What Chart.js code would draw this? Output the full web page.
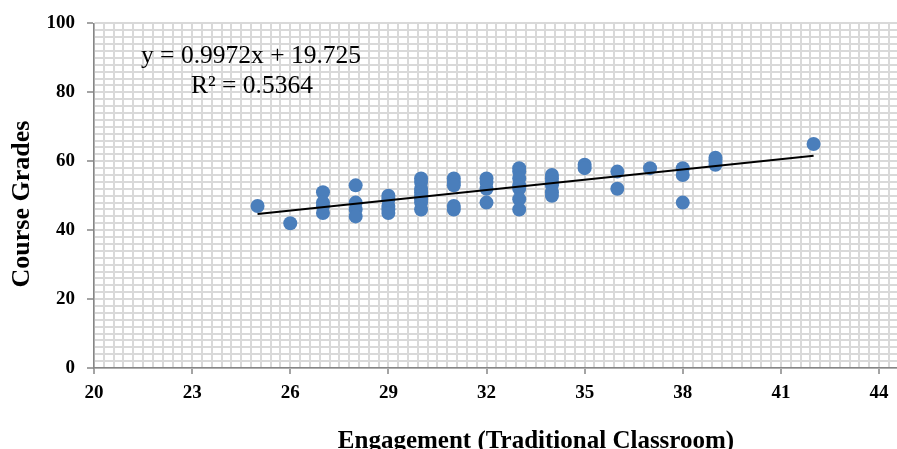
<!DOCTYPE html>
<html>
<head>
<meta charset="utf-8">
<script src="https://cdn.jsdelivr.net/npm/chart.js@4/dist/chart.umd.min.js"></script>
<style>
    html, body { margin: 0; padding: 0; background: #fff; }
    #wrap { width: 897px; height: 449px; position: relative; }
</style>
</head>
<body>
<div id="wrap"><canvas id="scatterChart"></canvas></div>
<script>
// values
const engagement = [
    25, 26,
    27, 27, 27, 27,
    28, 28, 28, 28,
    29, 29, 29, 29, 29,
    30, 30, 30, 30, 30, 30, 30, 30,
    31, 31, 31, 31, 31,
    32, 32, 32, 32,
    33, 33, 33, 33, 33, 33, 33,
    34, 34, 34, 34, 34, 34,
    35, 35,
    36, 36,
    37,
    38, 38, 38,
    39, 39, 39,
    42,
];
const grades = [
    47, 42,
    51, 48, 47, 45,
    53, 48, 46, 44,
    50, 49, 47, 46, 45,
    55, 54, 52, 51, 50, 49, 48, 46,
    55, 54, 53, 47, 46,
    55, 54, 52, 48,
    58, 57, 55, 53, 52, 49, 46,
    56, 55, 54, 53, 51, 50,
    59, 58,
    57, 52,
    58,
    58, 56, 48,
    61, 60, 59,
    65,
];
const trendX = [25, 42];
const trendY = [44.7, 61.6];

const xTicks = [20, 23, 26, 29, 32, 35, 38, 41, 44];
const yTicks = [0, 20, 40, 60, 80, 100];
const xMax = 44.55;
const xTitle = 'Engagement (Traditional Classroom)';
const yTitle = 'Course Grades';
const equationLines = ['y = 0.9972x + 19.725', 'R² = 0.5364'];

const serif = '"Liberation Serif", "Times New Roman", serif';
const gridColor = '#d9d9d9';
const axisColor = '#868686';

// minor grid lines: ten per major step, tick marks only on the major ones
const withMinor = (major, last) => {
    const step = (major[1] - major[0]) / 10;
    const out = [];
    for (let i = 0; major[0] + i * step <= last + 1e-9; i++) {
        out.push({ value: Math.round((major[0] + i * step) * 1000) / 1000 });
    }
    return out;
};
const isMajor = (list, v) => list.some((m) => Math.abs(m - v) < 1e-6);

const textPlugin = {
    id: 'textPlugin',
    afterDraw(chart) {
        const ctx = chart.ctx;
        ctx.save();
        ctx.fillStyle = '#000';
        ctx.textAlign = 'center';
        ctx.textBaseline = 'alphabetic';
        ctx.font = 'bold 25px ' + serif;
        ctx.fillText(xTitle, 536, 448);
        ctx.save();
        ctx.font = 'bold 26px ' + serif;
        ctx.translate(29, 204);
        ctx.rotate(-Math.PI / 2);
        ctx.fillText(yTitle, 0, 0);
        ctx.restore();
        ctx.font = '25.5px ' + serif;
        ctx.fillText(equationLines[0], 251, 63);
        ctx.fillText(equationLines[1], 252, 93);
        ctx.restore();
    },
};

const scatterPoints = engagement.map((x, i) => ({ x, y: grades[i] }));
const trendPoints = trendX.map((x, i) => ({ x, y: trendY[i] }));

new Chart(document.getElementById('scatterChart'), {
    type: 'scatter',
    data: {
        datasets: [
            {
                label: 'Linear trend',
                data: trendPoints,
                showLine: true,
                borderColor: '#000',
                borderWidth: 2,
                pointRadius: 0,
                order: 0,
            },
            {
                label: 'Course Grades',
                data: scatterPoints,
                backgroundColor: '#4a7ebb',
                borderWidth: 0,
                pointRadius: 7,
                order: 1,
            },
        ],
    },
    options: {
        responsive: true,
        maintainAspectRatio: false,
        animation: false,
        events: [],
        layout: {
            autoPadding: false,
            padding: { top: 21, right: 0, bottom: 0, left: 0 },
        },
        plugins: {
            legend: { display: false },
            tooltip: { enabled: false },
        },
        scales: {
            x: {
                type: 'linear',
                min: 20,
                max: xMax,
                afterBuildTicks: (scale) => {
                    scale.ticks = withMinor(xTicks, xMax);
                },
                afterFit: (scale) => {
                    scale.height = 81;
                },
                border: { color: axisColor, width: 1.5 },
                grid: {
                    color: gridColor,
                    lineWidth: 2,
                    tickLength: 6,
                    tickColor: (ctx) => (ctx.tick && isMajor(xTicks, ctx.tick.value) ? axisColor : 'rgba(0,0,0,0)'),
                    tickWidth: 1.5,
                },
                ticks: {
                    autoSkip: false,
                    maxRotation: 0,
                    padding: 8,
                    color: '#000',
                    font: { family: serif, size: 19, weight: 'bold' },
                    callback: (value) => (isMajor(xTicks, value) ? String(Math.round(value)) : ''),
                },
            },
            y: {
                min: 0,
                max: 100,
                afterBuildTicks: (scale) => {
                    scale.ticks = withMinor(yTicks, 100);
                },
                afterFit: (scale) => {
                    scale.width = 94;
                },
                border: { color: axisColor, width: 1.5 },
                grid: {
                    color: gridColor,
                    lineWidth: 2,
                    tickLength: 7,
                    tickColor: (ctx) => (ctx.tick && isMajor(yTicks, ctx.tick.value) ? axisColor : 'rgba(0,0,0,0)'),
                    tickWidth: 1.5,
                },
                ticks: {
                    autoSkip: false,
                    padding: 12,
                    color: '#000',
                    font: { family: serif, size: 19, weight: 'bold' },
                    callback: (value) => (isMajor(yTicks, value) ? String(Math.round(value)) : ''),
                },
            },
        },
    },
    plugins: [textPlugin],
});
</script>
</body>
</html>
